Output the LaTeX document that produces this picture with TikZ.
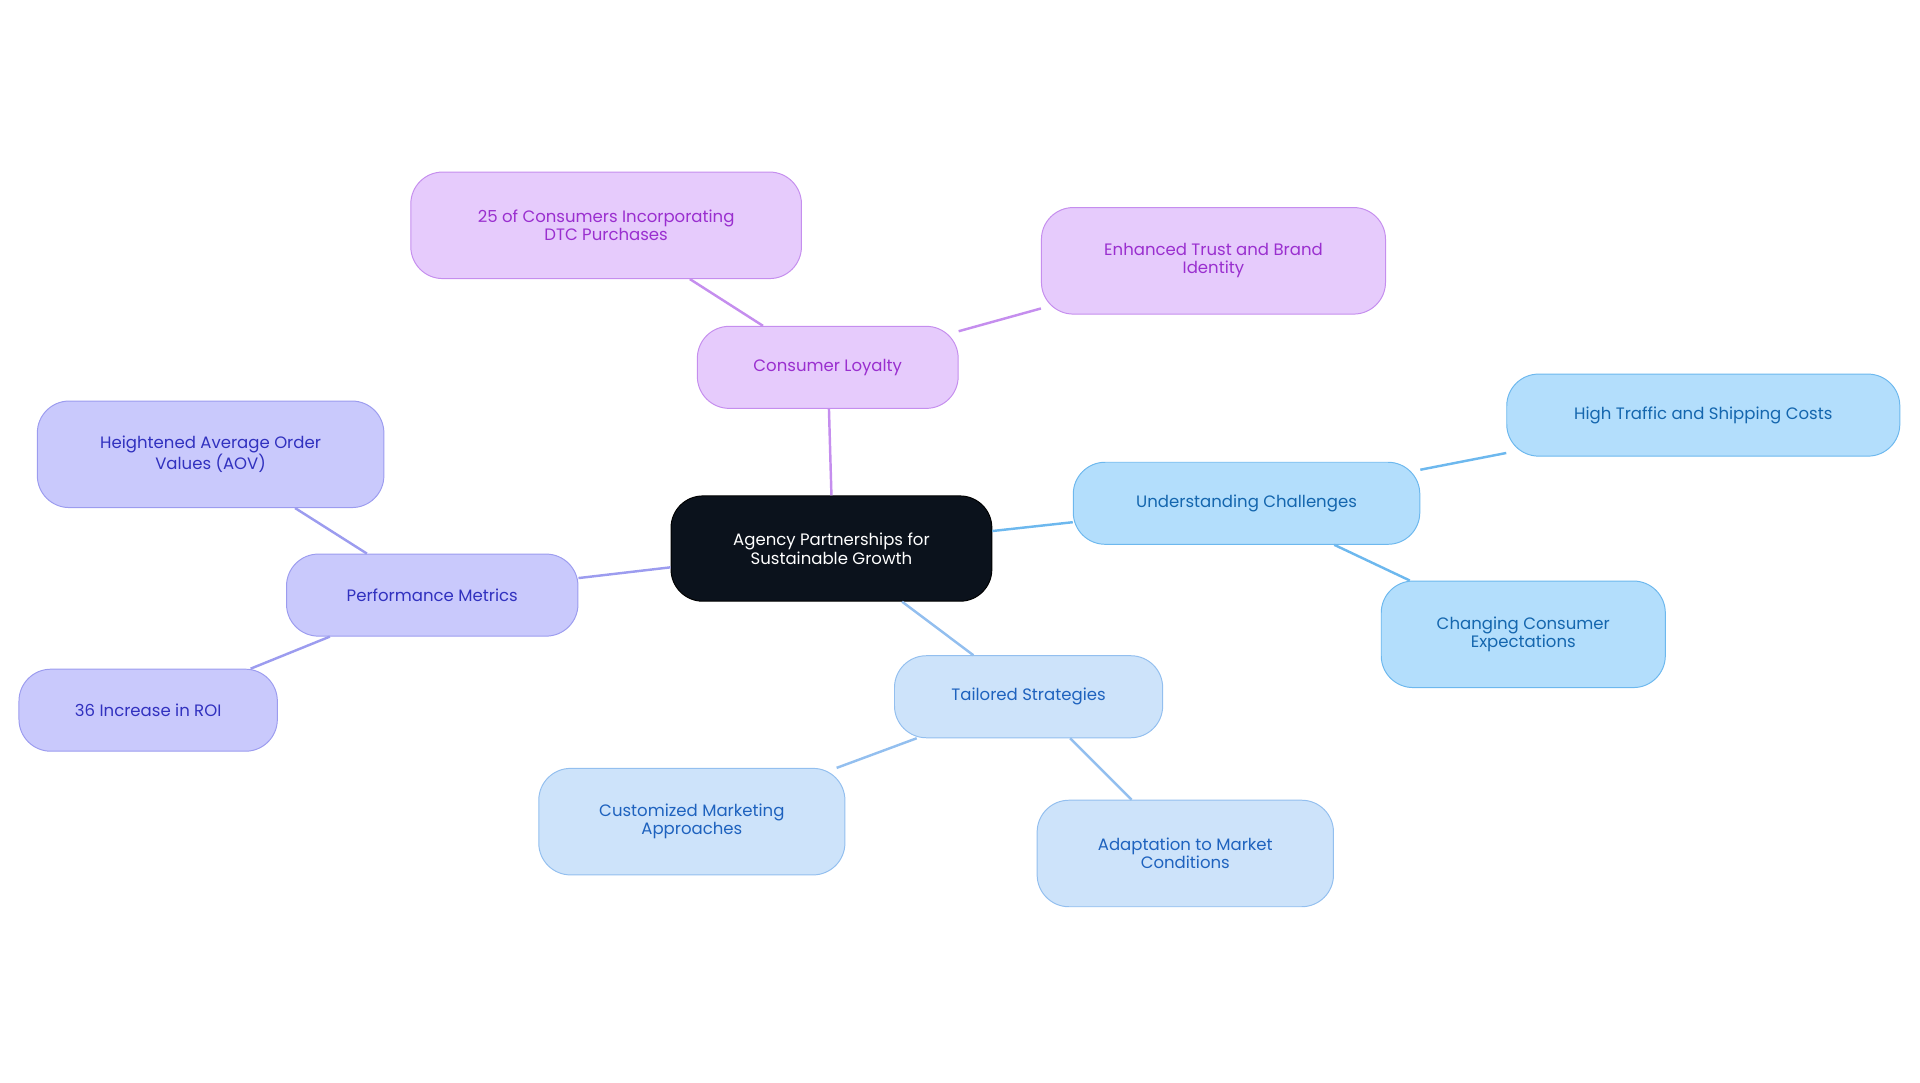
\documentclass[tikz,border=0pt]{standalone}
\usepackage{fontspec}
\setmainfont{Poppins}
\definecolor{pF}{HTML}{E6CBFC}\definecolor{pD}{HTML}{C58EEE}\definecolor{pT}{HTML}{9A2FCF}
\definecolor{bF}{HTML}{B3DEFC}\definecolor{bD}{HTML}{6DB8EE}\definecolor{bT}{HTML}{1466AE}
\definecolor{lF}{HTML}{CDE3FA}\definecolor{lD}{HTML}{93BFEF}\definecolor{lT}{HTML}{1E62BE}
\definecolor{vF}{HTML}{C9C9FC}\definecolor{vD}{HTML}{9C9CEF}\definecolor{vT}{HTML}{3131BF}
\tikzset{
 box/.style={rounded corners=26pt,draw,line width=0.8pt,align=center,font=\fontsize{13.5}{15}\selectfont,inner sep=0pt},
 pb/.style={box,fill=pF,draw=pD,text=pT},
 bb/.style={box,fill=bF,draw=bD,text=bT},
 lb/.style={box,fill=lF,draw=lD,text=lT},
 vb/.style={box,fill=vF,draw=vD,text=vT},
 ln/.style={line width=2pt}
}
\begin{document}
\begin{tikzpicture}[x=1pt,y=-1pt]
\useasboundingbox (0,0) rectangle (1568,884);
\node[box,fill=black!90!blue!60!black,fill={rgb,255:red,11;green,18;blue,28},draw=black,text=white,minimum width=262pt,minimum height=86pt] (c) at (679,448) {Agency Partnerships for\\Sustainable Growth};
\node[pb,minimum width=213pt,minimum height=67pt] (cl) at (676,300) {Consumer Loyalty};
\node[pb,minimum width=319pt,minimum height=87pt] (p1) at (495,184) {25 of Consumers Incorporating\\DTC Purchases};
\node[pb,minimum width=281pt,minimum height=87pt] (p2) at (991,213) {Enhanced Trust and Brand\\Identity};
\node[bb,minimum width=283pt,minimum height=67pt] (uc) at (1018,411) {Understanding Challenges};
\node[bb,minimum width=321pt,minimum height=67pt] (b1) at (1391,339) {High Traffic and Shipping Costs};
\node[bb,minimum width=232pt,minimum height=87pt] (b2) at (1244,518) {Changing Consumer\\Expectations};
\node[lb,minimum width=219pt,minimum height=67pt] (ts) at (840,569) {Tailored Strategies};
\node[lb,minimum width=250pt,minimum height=87pt] (l1) at (565,671) {Customized Marketing\\Approaches};
\node[lb,minimum width=242pt,minimum height=87pt] (l2) at (968,697) {Adaptation to Market\\Conditions};
\node[vb,minimum width=238pt,minimum height=67pt] (pm) at (353,486) {Performance Metrics};
\node[vb,minimum width=283pt,minimum height=87pt] (v1) at (172,371) {Heightened Average Order\\Values (AOV)};
\node[vb,minimum width=211pt,minimum height=67pt] (v2) at (121,580) {36 Increase in ROI};
\begin{scope}[on background layer/.style={}]
\end{scope}
\draw[ln,pD] (c.north) -- (cl);
\draw[ln,pD] (cl) -- (p1);
\draw[ln,pD] (cl) -- (p2);
\draw[ln,bD] (c) -- (uc);
\draw[ln,bD] (uc) -- (b1);
\draw[ln,bD] (uc) -- (b2);
\draw[ln,lD] (c) -- (ts);
\draw[ln,lD] (ts) -- (l1);
\draw[ln,lD] (ts) -- (l2);
\draw[ln,vD] (c) -- (pm);
\draw[ln,vD] (pm) -- (v1);
\draw[ln,vD] (pm) -- (v2);
\end{tikzpicture}
\end{document}
